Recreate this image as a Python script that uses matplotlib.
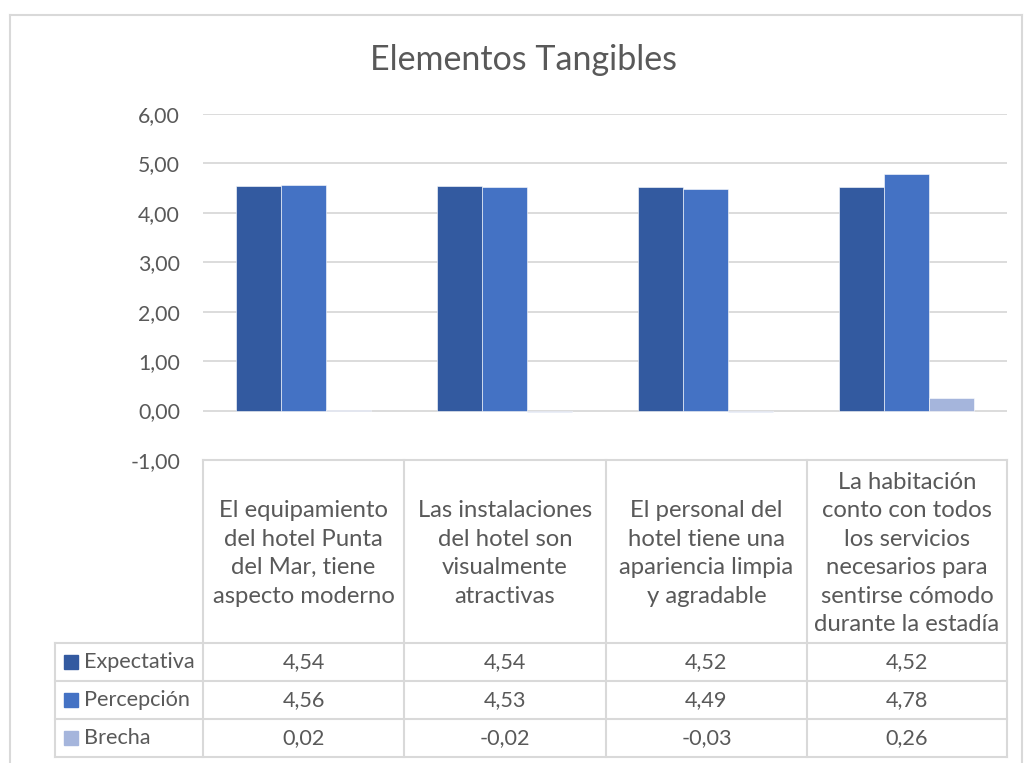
import matplotlib
matplotlib.use("Agg")
import matplotlib.pyplot as plt
from matplotlib.lines import Line2D
from matplotlib.patches import Rectangle

# ---- data ----
categories = [
    "El equipamiento\ndel hotel Punta\ndel Mar, tiene\naspecto moderno",
    "Las instalaciones\ndel hotel son\nvisualmente\natractivas",
    "El personal del\nhotel tiene una\napariencia limpia\ny agradable",
    "La habitación\nconto con todos\nlos servicios\nnecesarios para\nsentirse cómodo\ndurante la estadía",
]
series_names = ["Expectativa", "Percepción", "Brecha"]
expectativa = [4.54, 4.54, 4.52, 4.52]
percepcion = [4.56, 4.53, 4.49, 4.78]
brecha = [0.02, -0.02, -0.03, 0.26]
y_ticks = [-1, 0, 1, 2, 3, 4, 5, 6]
title = "Elementos Tangibles"

colors = ["#335AA0", "#4472C4", "#A5B5DC"]
text_color = "#595959"
grid_color = "#D9D9D9"
FONT = "Lato"

W, H = 1024, 763
fig = plt.figure(figsize=(W / 100, H / 100), dpi=100)

def fx(x):
    return x / W

def fy(y):
    return 1 - y / H

# plot area
left, right, top, bottom = 203, 1007, 114, 460
ax = fig.add_axes([fx(left), fy(bottom), fx(right) - fx(left), fy(top) - fy(bottom)])
ax.set_xlim(-0.5, len(categories) - 0.5)
ax.set_ylim(-1, 6)
for s in ax.spines.values():
    s.set_visible(False)
ax.set_xticks([])
ax.set_yticks(y_ticks)
ax.set_yticklabels([f"{v:.2f}".replace(".", ",") for v in y_ticks],
                   fontsize=15.3, color=text_color, family=FONT)
ax.tick_params(axis="y", length=0, pad=16.5)
ax.yaxis.grid(True, color=grid_color, linewidth=1.3)
ax.set_axisbelow(True)

bw = 0.2225
all_series = [expectativa, percepcion, brecha]
xs = list(range(len(categories)))
for i, (vals, c) in enumerate(zip(all_series, colors)):
    ax.bar([x + (i - 1) * bw for x in xs], vals, width=bw, color=c,
           edgecolor="white", linewidth=0.4, zorder=3)

# title
fig.text(fx(524), fy(60), title, ha="center", va="center", fontsize=24.5,
         color=text_color, family=FONT)

# outer chart border
for (x0, y0, x1, y1) in [(10, 15, 1022, 15), (10, 15, 10, 763), (1022, 15, 1022, 763)]:
    fig.add_artist(Line2D([fx(x0), fx(x1)], [fy(y0), fy(y1)], color=grid_color,
                          linewidth=1.5, transform=fig.transFigure))

# data table
col_x = [203, 404, 606, 807, 1007]
row_y = [460, 643, 681, 719, 757]
leg_left = 55

def hline(y, x0, x1):
    fig.add_artist(Line2D([fx(x0), fx(x1)], [fy(y), fy(y)], color=grid_color,
                          linewidth=1.5, transform=fig.transFigure))

def vline(x, y0, y1):
    fig.add_artist(Line2D([fx(x), fx(x)], [fy(y0), fy(y1)], color=grid_color,
                          linewidth=1.5, transform=fig.transFigure))

hline(row_y[0], col_x[0], col_x[-1])
for y in row_y[1:]:
    hline(y, leg_left, col_x[-1])
for x in col_x:
    vline(x, row_y[0], row_y[-1])
vline(leg_left, row_y[1], row_y[-1])

# category cells
for j, cat in enumerate(categories):
    cx = (col_x[j] + col_x[j + 1]) / 2
    cy = (row_y[0] + row_y[1]) / 2
    fig.text(fx(cx), fy(cy + 2), cat, ha="center", va="center", fontsize=17.2,
             color=text_color, family=FONT, linespacing=1.44)

# value rows
for i, (name, vals, c) in enumerate(zip(series_names, all_series, colors)):
    cy = (row_y[i + 1] + row_y[i + 2]) / 2
    fig.add_artist(Rectangle((fx(64), fy(cy + 7)), fx(14), 14 / H, color=c,
                             transform=fig.transFigure))
    fig.text(fx(84), fy(cy), name, ha="left", va="center", fontsize=15.6,
             color=text_color, family=FONT)
    for j, v in enumerate(vals):
        cx = (col_x[j] + col_x[j + 1]) / 2
        fig.text(fx(cx), fy(cy), f"{v:.2f}".replace(".", ","), ha="center",
                 va="center", fontsize=15.6, color=text_color, family=FONT)

fig.savefig("out.png", dpi=100)
